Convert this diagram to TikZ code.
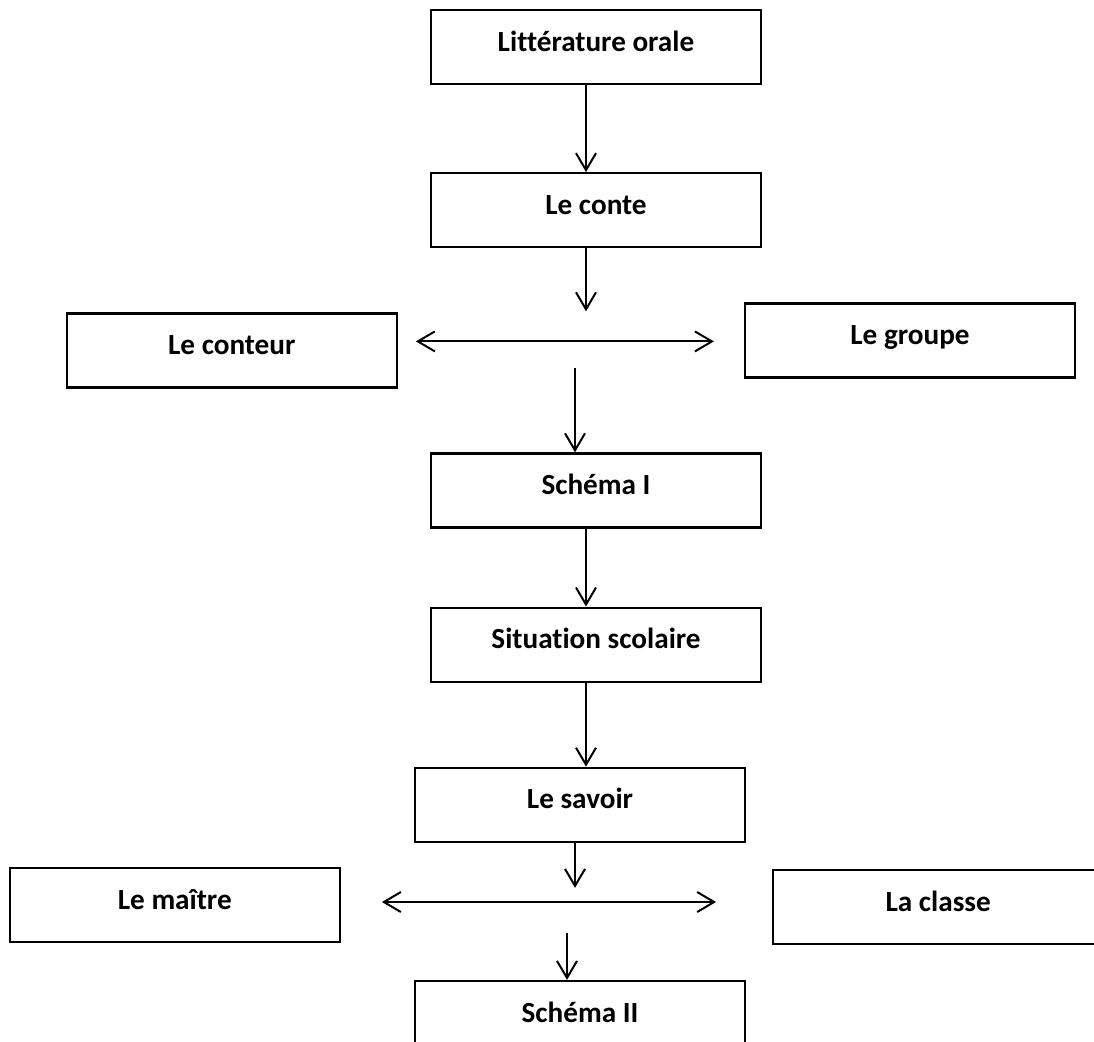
\documentclass[tikz,border=0pt]{standalone}
\usepackage{fontspec}
\setmainfont{Carlito}[Ligatures=NoCommon]
\usepackage{tikz}
\usetikzlibrary{arrows.meta,positioning}

\begin{document}
\begin{tikzpicture}[
  box/.style={draw, line width=1.1pt, align=center, minimum width=165pt,
    minimum height=37pt, text height=10pt, text depth=6pt,
    font=\fontsize{14.6}{17}\selectfont\bfseries},
  arr/.style={-{Straight Barb[length=8.5pt,width=10pt]}, line width=1pt},
  dbl/.style={{Straight Barb[length=8.5pt,width=10pt]}-{Straight Barb[length=8.5pt,width=10pt]}, line width=1pt}
]
\useasboundingbox (0,0) rectangle (547pt,-520.5pt);

% colonne centrale
\node[box] (litt) at (298pt,-23.5pt) {Littérature orale};
\node[box, below=43.5pt of litt] (conte) {Le conte};
\node[box, below=102pt of conte] (schema1) {Schéma I};
\node[box, below=39pt of schema1] (situation) {Situation scolaire};
\node[box, below=42pt of situation, xshift=-8pt] (savoir) {Le savoir};
\node[box, below=68.5pt of savoir] (schema2) {Schéma II};

% boites laterales
\node[box, below left=32pt and 16pt of conte] (conteur) {Le conteur};
\node[box, right=173pt of conteur, yshift=5pt] (groupe) {Le groupe};
\node[box, below left=12pt and 36.5pt of savoir] (maitre) {Le maître};
\node[box, below right=13pt and 13pt of savoir] (classe) {La classe};

% points libres
\coordinate (split1) at ([xshift=-5pt,yshift=-31.5pt]conte.south);
\coordinate (l1) at ([xshift=9pt,yshift=4.5pt]conteur.east);
\coordinate (r1) at ([xshift=-15pt]groupe.west |- l1);
\coordinate (join1) at ([xshift=-10.5pt,yshift=42pt]schema1.north);
\coordinate (split2) at ([xshift=-2.5pt,yshift=-22.5pt]savoir.south);
\coordinate (l2) at ([xshift=20.5pt,yshift=1.5pt]maitre.east);
\coordinate (r2) at ([xshift=-28pt]classe.west |- l2);
\coordinate (join2) at ([xshift=-6.5pt,yshift=23.5pt]schema2.north);

\draw[arr] ([xshift=-5pt]litt.south) -- ([xshift=-5pt]conte.north);
\draw[arr] ([xshift=-5pt]conte.south) -- (split1);
\draw[dbl] (l1) -- (r1);
\draw[arr] (join1) -- (join1 |- schema1.north);
\draw[arr] ([xshift=-5pt]schema1.south) -- ([xshift=-5pt]situation.north);
\draw[arr] ([xshift=-5pt]situation.south) -- ([xshift=-5pt]situation.south |- savoir.north);
\draw[arr] ([xshift=-2.5pt]savoir.south) -- (split2);
\draw[dbl] (l2) -- (r2);
\draw[arr] (join2) -- (join2 |- schema2.north);
\end{tikzpicture}
\end{document}
